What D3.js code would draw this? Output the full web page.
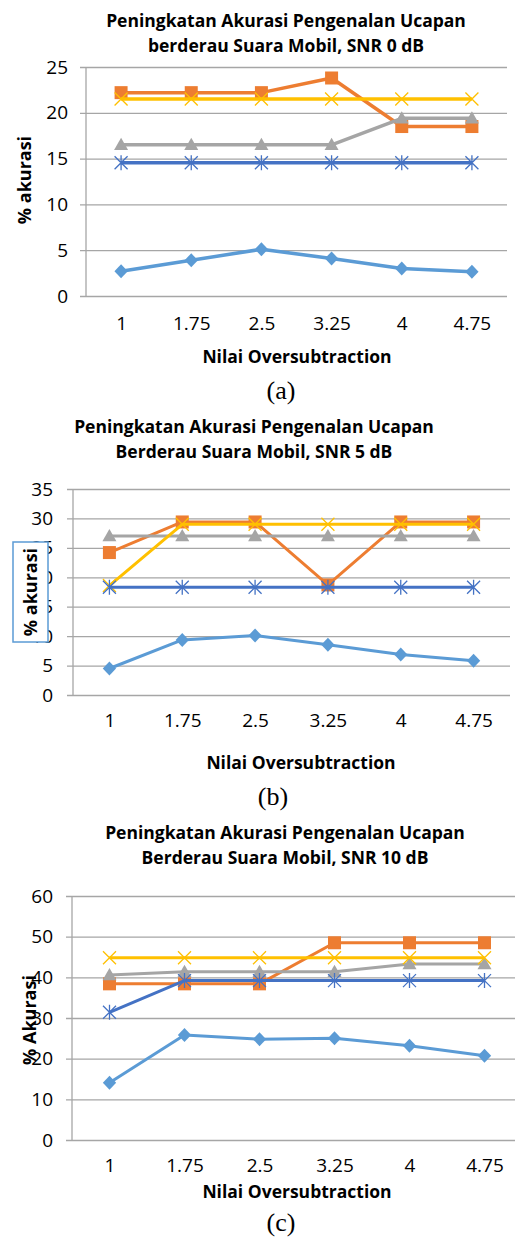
<!DOCTYPE html>
<html>
<head>
<meta charset="utf-8">
<script src="https://cdn.jsdelivr.net/npm/d3@7"></script>
<style>
  body { margin: 0; background: #fff; }
  svg { display: block; }
</style>
</head>
<body>
<div class="charts"></div>
<script>
const xLabels = ['1', '1.75', '2.5', '3.25', '4', '4.75']

// SNR 0 dB
const snr0Diamond  = [2.7, 3.9, 5.1, 4.1, 3.0, 2.65]
const snr0Square   = [22.2, 22.2, 22.2, 23.8, 18.5, 18.5]
const snr0Triangle = [16.5, 16.5, 16.5, 16.5, 19.4, 19.4]
const snr0Cross    = [21.5, 21.5, 21.5, 21.5, 21.5, 21.5]
const snr0Star     = [14.55, 14.55, 14.55, 14.55, 14.55, 14.55]

// SNR 5 dB
const snr5Diamond  = [4.5, 9.35, 10.1, 8.55, 6.9, 5.8]
const snr5Square   = [24.2, 29.4, 29.4, 18.7, 29.4, 29.4]
const snr5Triangle = [27.0, 27.0, 27.0, 27.0, 27.0, 27.0]
const snr5Cross    = [18.6, 29.0, 29.0, 29.0, 29.0, 29.0]
const snr5Star     = [18.3, 18.3, 18.3, 18.3, 18.3, 18.3]

// SNR 10 dB
const snr10Diamond  = [14.1, 25.8, 24.8, 25.0, 23.2, 20.7]
const snr10Square   = [38.4, 38.4, 38.4, 48.5, 48.5, 48.5]
const snr10Triangle = [40.6, 41.4, 41.4, 41.4, 43.3, 43.3]
const snr10Cross    = [44.8, 44.8, 44.8, 44.8, 44.8, 44.8]
const snr10Star     = [31.4, 39.2, 39.2, 39.2, 39.2, 39.2]

const yTicks0  = [0, 5, 10, 15, 20, 25]
const yTicks5  = [0, 5, 10, 15, 20, 25, 30, 35]
const yTicks10 = [0, 10, 20, 30, 40, 50, 60]

const titles0  = ['Peningkatan Akurasi Pengenalan Ucapan', 'berderau Suara Mobil, SNR 0 dB']
const titles5  = ['Peningkatan Akurasi Pengenalan Ucapan', 'Berderau Suara Mobil, SNR 5 dB']
const titles10 = ['Peningkatan Akurasi Pengenalan Ucapan', 'Berderau Suara Mobil, SNR 10 dB']

const width = 515
const height = 1240
const font = "'Open Sans', 'DejaVu Sans', sans-serif"

// custom marker shapes, size = half width
const diamond = { draw(c, r) { c.moveTo(0, -r); c.lineTo(r * 0.95, 0); c.lineTo(0, r); c.lineTo(-r * 0.95, 0); c.closePath() } }
const square = { draw(c, r) { c.rect(-r, -r, 2 * r, 2 * r) } }
const triangle = { draw(c, r) { c.moveTo(0, -r); c.lineTo(r, r * 0.75); c.lineTo(-r, r * 0.75); c.closePath() } }
const cross = { draw(c, r) { c.moveTo(-r, -r); c.lineTo(r, r); c.moveTo(r, -r); c.lineTo(-r, r) } }
const star = { draw(c, r) { c.moveTo(-r, -r); c.lineTo(r, r); c.moveTo(r, -r); c.lineTo(-r, r); c.moveTo(0, -r * 1.15); c.lineTo(0, r * 1.15) } }

const seriesStyle = [
  { color: '#5B9BD5', shape: diamond, r: 7, filled: true },
  { color: '#ED7D31', shape: square, r: 6.5, filled: true },
  { color: '#A5A5A5', shape: triangle, r: 7, filled: true },
  { color: '#FFC000', shape: cross, r: 6.5, filled: false },
  { color: '#4472C4', shape: star, r: 6.5, filled: false }
]

const svg = d3.select('.charts')
  .append('svg')
  .attr('width', width)
  .attr('height', height)

svg.append('rect').attr('width', width).attr('height', height).attr('fill', '#fff')

function drawChart(cfg) {
  const g = svg.append('g')

  const xScale = d3.scalePoint()
    .domain(xLabels)
    .range([cfg.left, cfg.right])
    .padding(0.5)

  const yScale = d3.scaleLinear()
    .domain([0, cfg.yMax])
    .range([cfg.bottom, cfg.top])

  // title
  g.append('text')
    .attr('text-anchor', 'middle')
    .attr('font-family', font)
    .attr('font-weight', 'bold')
    .attr('font-size', '17.5px')
    .attr('fill', '#000')
    .selectAll('tspan')
    .data(cfg.titles)
    .enter()
    .append('tspan')
    .attr('x', cfg.titleX)
    .attr('y', (d, i) => cfg.titleY + i * 24.5)
    .text(d => d)

  // gridlines + y tick labels
  const yAxis = d3.axisLeft(yScale)
    .tickValues(cfg.yTicks)
    .tickSize(-(cfg.right - cfg.left + 6))
    .tickSizeOuter(0)
    .tickPadding(cfg.yPad)

  const yAxisGroup = g.append('g')
    .attr('transform', `translate(${cfg.left - 6}, 0)`)
    .call(yAxis)
  yAxisGroup.select('.domain').remove()
  yAxisGroup.selectAll('line').attr('stroke', '#a6a6a6').attr('stroke-width', 1.3)
  yAxisGroup.selectAll('text')
    .attr('font-family', font)
    .attr('font-size', '19px')
    .attr('fill', '#000')

  // vertical axis line
  g.append('line')
    .attr('x1', cfg.left).attr('x2', cfg.left)
    .attr('y1', yScale(cfg.yMax)).attr('y2', yScale(0))
    .attr('stroke', '#a6a6a6').attr('stroke-width', 1.3)

  // x tick labels
  const xAxis = d3.axisBottom(xScale).tickSize(0).tickPadding(cfg.xPad)
  const xAxisGroup = g.append('g')
    .attr('transform', `translate(0, ${cfg.bottom})`)
    .call(xAxis)
  xAxisGroup.select('.domain').remove()
  xAxisGroup.selectAll('text')
    .attr('font-family', font)
    .attr('font-size', '19px')
    .attr('fill', '#000')

  // series lines and markers
  const series = cfg.series.map((vals, i) => ({ vals, style: seriesStyle[i] }))
  const line = d3.line()
    .x((d, i) => xScale(xLabels[i]))
    .y(d => yScale(d))

  series.forEach(s => {
    g.append('path')
      .datum(s.vals)
      .attr('d', line)
      .attr('fill', 'none')
      .attr('stroke', s.style.color)
      .attr('stroke-width', cfg.lineWidth)
      .attr('stroke-linejoin', 'round')

    g.selectAll(null)
      .data(s.vals)
      .enter()
      .append('path')
      .attr('d', d3.symbol().type(s.style.shape).size(s.style.r))
      .attr('transform', (d, i) => `translate(${xScale(xLabels[i])}, ${yScale(d)})`)
      .attr('fill', s.style.filled ? s.style.color : 'none')
      .attr('stroke', s.style.color)
      .attr('stroke-width', s.style.filled ? 0 : 1.3)
  })

  // y axis title (optionally inside a bordered text box)
  if (cfg.yBox) {
    g.append('rect')
      .attr('x', cfg.yBox[0]).attr('y', cfg.yBox[1])
      .attr('width', cfg.yBox[2]).attr('height', cfg.yBox[3])
      .attr('fill', '#fff')
      .attr('stroke', '#5B9BD5')
      .attr('stroke-width', 1.5)
  }
  g.append('text')
    .attr('transform', `translate(${cfg.yLabelX}, ${cfg.yLabelY}) rotate(-90)`)
    .attr('text-anchor', 'middle')
    .attr('font-family', font)
    .attr('font-weight', 'bold')
    .attr('font-size', '18px')
    .attr('fill', '#000')
    .text(cfg.yLabel)

  // x axis title
  g.append('text')
    .attr('x', cfg.xTitleX)
    .attr('y', cfg.xTitleY)
    .attr('text-anchor', 'middle')
    .attr('font-family', font)
    .attr('font-weight', 'bold')
    .attr('font-size', '17.5px')
    .attr('fill', '#000')
    .text('Nilai Oversubtraction')

  // caption
  g.append('text')
    .attr('x', cfg.capX)
    .attr('y', cfg.capY)
    .attr('text-anchor', 'middle')
    .attr('font-family', "'Liberation Serif', 'Times New Roman', serif")
    .attr('font-size', '26px')
    .attr('fill', '#000')
    .text(cfg.caption)
}

drawChart({
  titles: titles0, titleX: 286, titleY: 27,
  left: 86, right: 507, top: 67, bottom: 296,
  yMax: 25, yTicks: yTicks0, yPad: 12, xPad: 21,
  series: [snr0Diamond, snr0Square, snr0Triangle, snr0Cross, snr0Star],
  lineWidth: 3.5,
  yLabel: '% akurasi', yLabelX: 31, yLabelY: 180,
  xTitleX: 297, xTitleY: 363,
  caption: '(a)', capX: 281, capY: 399
})

drawChart({
  titles: titles5, titleX: 254, titleY: 433,
  left: 73, right: 510, top: 489, bottom: 695,
  yMax: 35, yTicks: yTicks5, yPad: 14, xPad: 19,
  series: [snr5Diamond, snr5Square, snr5Triangle, snr5Cross, snr5Star],
  lineWidth: 3,
  yLabel: '% akurasi', yLabelX: 37, yLabelY: 592,
  yBox: [13, 542, 35, 100],
  xTitleX: 301, xTitleY: 769,
  caption: '(b)', capX: 273, capY: 805
})

drawChart({
  titles: titles10, titleX: 285, titleY: 839,
  left: 72, right: 522, top: 896, bottom: 1140,
  yMax: 60, yTicks: yTicks10, yPad: 13, xPad: 19,
  series: [snr10Diamond, snr10Square, snr10Triangle, snr10Cross, snr10Star],
  lineWidth: 3,
  yLabel: '% Akurasi', yLabelX: 36, yLabelY: 1020,
  xTitleX: 297, xTitleY: 1198,
  caption: '(c)', capX: 281, capY: 1231
})
</script>
</body>
</html>
